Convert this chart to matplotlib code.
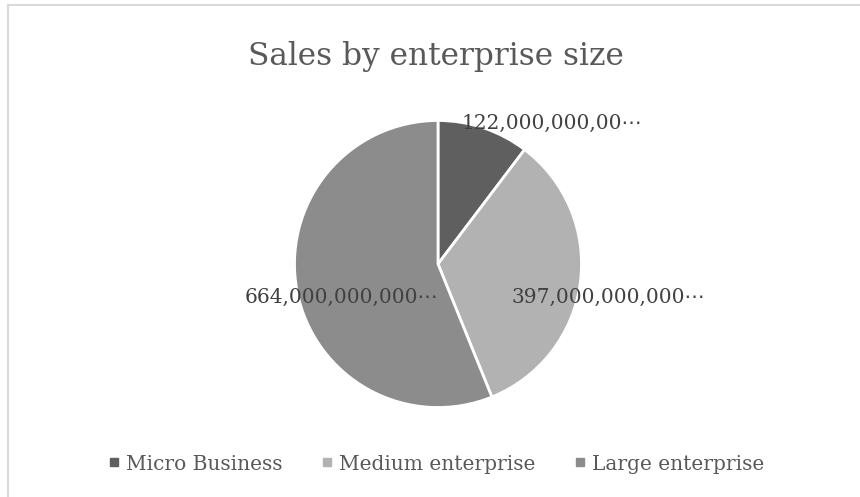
#!/usr/bin/env python
# -*- coding: utf-8 -*-

""" Pie chart of sales split by enterprise size """

import matplotlib
matplotlib.use("Agg")
import matplotlib.pyplot as plt
from matplotlib.lines import Line2D

CATEGORIES = ["Micro Business", "Medium enterprise", "Large enterprise"]
SALES = [122_000_000_000, 397_000_000_000, 664_000_000_000]
# how many characters of each formatted value fit before the ellipsis
LABEL_CHARS = [14, 15, 15]
COLORS = ["#5f5f5f", "#b2b2b2", "#8c8c8c"]
# label anchors in pie-radius units
LABEL_POS = [(0.79, 0.98), (1.19, -0.23), (-0.675, -0.23)]

FONT = ["DejaVu Serif", "DejaVu Sans"]
W, H = 860, 497


def short_label(value: int, n: int) -> str:
    """ Format with thousands separators and cut to n characters """
    text = f"{value:,}"
    return text[:n] + "\u22ef"


def main() -> None:
    fig = plt.figure(figsize=(W / 100, H / 100), dpi=100)
    fig.patch.set_facecolor("white")

    # chart frame, only the top and left edges are inside the image
    fig.add_artist(Line2D([7.5 / W, 7.5 / W], [0, 1 - 4.5 / H],
                          color="#d9d9d9", lw=1.5))
    fig.add_artist(Line2D([7.5 / W, 1], [1 - 4.5 / H, 1 - 4.5 / H],
                          color="#d9d9d9", lw=1.5))

    cx, cy, r = 438, 264, 143.5
    ax = fig.add_axes([(cx - r) / W, (H - cy - r) / H, 2 * r / W, 2 * r / H])
    ax.pie(SALES, colors=COLORS, startangle=90, counterclock=False,
           wedgeprops={"edgecolor": "white", "linewidth": 2})
    ax.set_xlim(-1, 1)
    ax.set_ylim(-1, 1)
    ax.set_aspect("equal")
    ax.axis("off")

    for value, n, (x, y) in zip(SALES, LABEL_CHARS, LABEL_POS):
        ax.text(x, y, short_label(value, n), ha="center", va="center",
                fontsize=14.5, color="#404040", family=FONT, clip_on=False)

    fig.text(436 / W, 1 - 57 / H, "Sales by enterprise size",
             ha="center", va="center", fontsize=22.5, color="#595959",
             family=FONT)

    handles = [Line2D([0], [0], marker="s", color="none",
                      markerfacecolor=c, markeredgecolor=c, markersize=6)
               for c in COLORS]
    fig.legend(handles, CATEGORIES, loc="center",
               bbox_to_anchor=(436 / W, 1 - 464 / H), ncol=3,
               frameon=False, handlelength=0.6, handletextpad=0.3,
               columnspacing=1.9,
               prop={"family": FONT, "size": 14.5},
               labelcolor="#595959")

    fig.savefig("out.png", dpi=100)


if __name__ == "__main__":
    main()
